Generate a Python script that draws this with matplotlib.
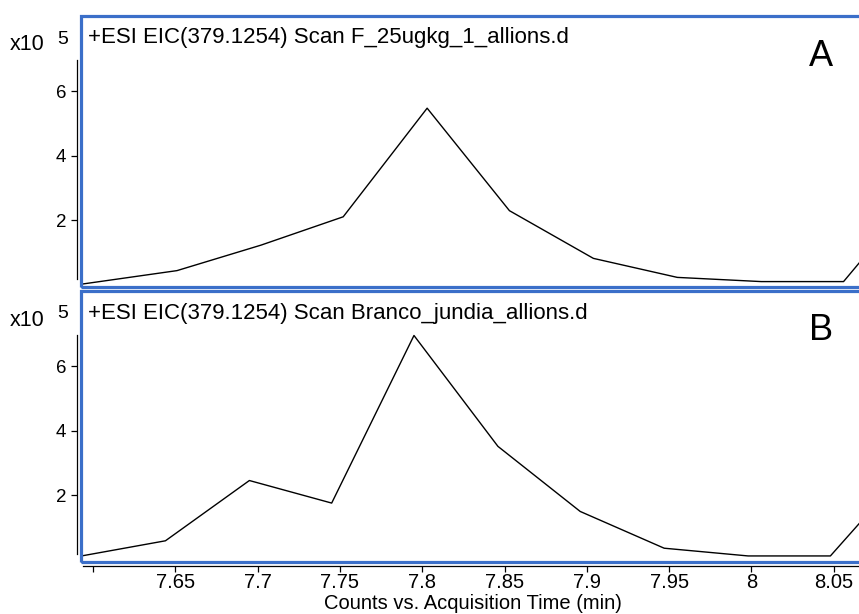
import matplotlib
matplotlib.use("Agg")
import matplotlib.pyplot as plt
from matplotlib.patches import Rectangle

plt.rcParams['font.family'] = ['Liberation Sans', 'DejaVu Sans']

#%% data (counts in units of 1e5)
time_a = [7.593, 7.651, 7.702, 7.752, 7.803, 7.853, 7.904, 7.955, 8.006, 8.056, 8.107]
counts_a = [0.01, 0.43, 1.22, 2.10, 5.47, 2.29, 0.81, 0.22, 0.09, 0.09, 3.2]

time_b = [7.593, 7.644, 7.695, 7.745, 7.795, 7.846, 7.896, 7.947, 7.998, 8.048, 8.099]
counts_b = [0.11, 0.58, 2.45, 1.75, 6.95, 3.51, 1.49, 0.35, 0.11, 0.11, 3.04]

titles = ["+ESI EIC(379.1254) Scan F_25ugkg_1_allions.d",
          "+ESI EIC(379.1254) Scan Branco_jundia_allions.d"]
panel_letters = ["A", "B"]
x_ticks = [7.6, 7.65, 7.7, 7.75, 7.8, 7.85, 7.9, 7.95, 8.0, 8.05]
x_ticklabels = ["", "7.65", "7.7", "7.75", "7.8", "7.85", "7.9", "7.95", "8", "8.05"]
y_ticks = [2, 4, 6]

blue = '#3b6fc9'
W, H = 859, 614

#%% layout (pixels)
left_px, right_px = 81, 862
boxes = [(16, 287), (291, 562)]   # top, bottom of each panel

fig = plt.figure(figsize=(W/100, H/100), dpi=100)

axes = []
for top, bot in boxes:
    ax = fig.add_axes([left_px/W, 1 - bot/H, (right_px - left_px)/W, (bot - top)/H])
    axes.append(ax)

for i, (ax, t, c) in enumerate(zip(axes, [time_a, time_b], [counts_a, counts_b])):
    ax.plot(t, c, color='black', lw=1.0, clip_on=True)
    ax.set_xlim(7.5927, 8.0672)
    ax.set_ylim(-0.078, 8.33)

    for s in ['top', 'right', 'bottom']:
        ax.spines[s].set_visible(False)
    ax.spines['left'].set_position(('outward', 3))
    ax.spines['left'].set_bounds(0.17, 6.97)
    ax.spines['left'].set_linewidth(0.9)

    # blue panel frame
    ax.add_patch(Rectangle((0, 0), 1, 1, transform=ax.transAxes, fill=False,
                           edgecolor=blue, lw=2.3, clip_on=False, zorder=5))

    ax.set_yticks(y_ticks)
    ax.set_yticklabels([str(v) for v in y_ticks])
    ax.tick_params(axis='y', direction='out', length=4.5, width=0.9, pad=3, labelsize=13.5)

    ax.text(7/781, 1 - 22/271, titles[i], transform=ax.transAxes,
            fontsize=16, va='center', ha='left')
    ax.text(740/781, 1 - 40/271, panel_letters[i], transform=ax.transAxes,
            fontsize=26, va='center', ha='center')

    top = boxes[i][0]
    fig.text(10/W, 1 - (top + 29)/H, "x10", fontsize=15.5, va='center', ha='left')
    fig.text(57/W, 1 - (top + 23)/H, "5", fontsize=14, va='center', ha='left')

# x axis only on the lower panel
axes[0].set_xticks([])
axb = axes[1]
axb.spines['bottom'].set_visible(True)
axb.spines['bottom'].set_position(('outward', 3))
axb.spines['bottom'].set_bounds(7.5939, 8.0672)
axb.spines['bottom'].set_linewidth(0.9)
axb.set_xticks(x_ticks)
axb.set_xticklabels(x_ticklabels)
axb.tick_params(axis='x', direction='out', length=4, width=0.9, pad=1, labelsize=14.5)

fig.text(473/W, 1 - 613/H, "Counts vs. Acquisition Time (min)", fontsize=14.5,
         ha='center', va='bottom')

fig.savefig('out.png', dpi=100)
